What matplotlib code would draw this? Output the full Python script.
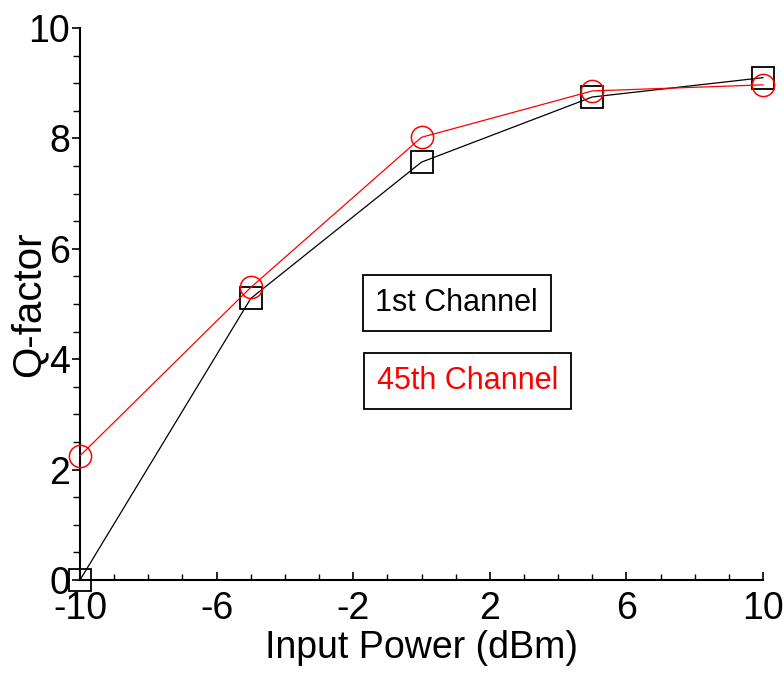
import matplotlib
matplotlib.use("Agg")
import matplotlib.pyplot as plt
from matplotlib.ticker import MultipleLocator

plt.rcParams['font.family'] = ['Liberation Sans', 'DejaVu Sans']
plt.rcParams['axes.unicode_minus'] = False

power = [-10, -5, 0, 5, 10]
q_ch1 = [0.0, 5.1, 7.57, 8.75, 9.1]
q_ch45 = [2.25, 5.3, 8.02, 8.86, 8.97]

fig = plt.figure(figsize=(7.83, 6.84), dpi=100)
ax = fig.add_axes([80/783, 1-580/684, 683/783, 552/684])

ax.plot(power, q_ch1, color='black', lw=0.9, marker='s', ms=16, mfc='none',
        mec='black', mew=1.3, clip_on=False, zorder=3)
ax.plot(power, q_ch45, color='red', lw=0.9, marker='o', ms=16, mfc='none',
        mec='red', mew=1.1, clip_on=False, zorder=3)

ax.set_xlim(-10, 10)
ax.set_ylim(0, 10)
ax.set_xticks([-10, -6, -2, 2, 6, 10])
ax.set_yticks([0, 2, 4, 6, 8, 10])
ax.xaxis.set_minor_locator(MultipleLocator(1))
ax.yaxis.set_minor_locator(MultipleLocator(0.5))

for s in ['top', 'right']:
    ax.spines[s].set_visible(False)
for s in ['left', 'bottom']:
    ax.spines[s].set_linewidth(1.5)

ax.tick_params(axis='x', which='major', direction='in', length=6, width=1.2,
               labelsize=27, pad=8)
ax.tick_params(axis='x', which='minor', direction='in', length=4, width=1.0)
ax.tick_params(axis='y', which='major', direction='out', length=6, width=1.2,
               labelsize=27, pad=1)
ax.tick_params(axis='y', which='minor', direction='out', length=5, width=1.0)

ax.set_xlabel('Input Power (dBm)', fontsize=27, labelpad=2)
ax.set_ylabel('Q-factor', fontsize=29)
ax.yaxis.set_label_coords(-0.047, 0.5)

ax.text(-1.35, 5.02, '1st Channel', fontsize=22, color='black', va='center', ha='left',
        bbox=dict(boxstyle='square,pad=0.42', fc='white', ec='black', lw=1.3))
ax.text(-1.3, 3.6, '45th Channel', fontsize=22, color='red', va='center', ha='left',
        bbox=dict(boxstyle='square,pad=0.42', fc='white', ec='black', lw=1.3))

fig.savefig('out.png', dpi=100)
